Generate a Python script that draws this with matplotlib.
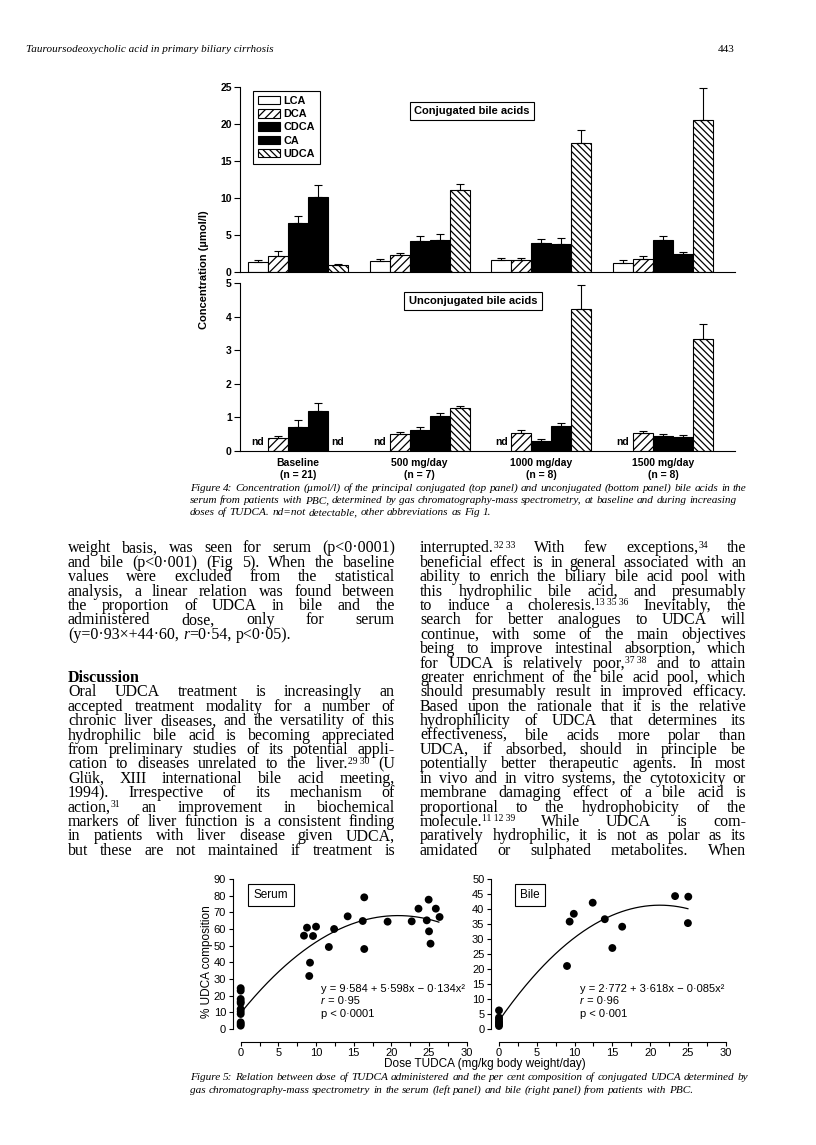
import re
import numpy as np
import matplotlib
matplotlib.use('Agg')
import matplotlib.pyplot as plt

# ---------------- data ----------------
groups = ['Baseline\n(n = 21)', '500 mg/day\n(n = 7)', '1000 mg/day\n(n = 8)', '1500 mg/day\n(n = 8)']
acids = ['LCA', 'DCA', 'CDCA', 'CA', 'UDCA']

# conjugated bile acids (umol/l): mean and top of error bar
conj_LCA = [1.3, 1.45, 1.6, 1.2]
conj_LCA_err = [1.65, 1.75, 1.9, 1.6]
conj_DCA = [2.15, 2.3, 1.6, 1.8]
conj_DCA_err = [2.8, 2.6, 1.9, 2.1]
conj_CDCA = [6.6, 4.2, 3.95, 4.3]
conj_CDCA_err = [7.6, 4.8, 4.5, 4.9]
conj_CA = [10.1, 4.35, 3.8, 2.4]
conj_CA_err = [11.8, 5.1, 4.6, 2.7]
conj_UDCA = [1.0, 11.1, 17.5, 20.5]
conj_UDCA_err = [1.12, 11.9, 19.2, 24.9]

# unconjugated bile acids (nan = not detectable)
unc_LCA = [np.nan, np.nan, np.nan, np.nan]
unc_LCA_err = [np.nan, np.nan, np.nan, np.nan]
unc_DCA = [0.4, 0.52, 0.55, 0.53]
unc_DCA_err = [0.46, 0.57, 0.62, 0.6]
unc_CDCA = [0.72, 0.63, 0.31, 0.44]
unc_CDCA_err = [0.93, 0.71, 0.36, 0.5]
unc_CA = [1.2, 1.05, 0.73, 0.43]
unc_CA_err = [1.43, 1.14, 0.82, 0.49]
unc_UDCA = [np.nan, 1.28, 4.22, 3.33]
unc_UDCA_err = [np.nan, 1.35, 4.95, 3.77]

# figure 5
serum_x = [0, 0, 0, 0, 0, 0, 0, 0, 0, 0, 0,
           8.4, 8.8, 9.1, 9.2, 9.6, 10.0, 11.7, 12.4, 14.2, 16.2, 16.4, 16.4,
           19.5, 22.7, 23.6, 24.7, 24.95, 25.0, 25.2, 25.9, 26.4]
serum_y = [24.5, 23, 18, 16.5, 15.5, 12, 10.5, 9, 4, 3, 2,
           56, 60.8, 31.8, 39.8, 55.8, 61.4, 49.2, 60, 67.6, 64.8, 79, 48,
           64.4, 64.6, 72.2, 65.2, 77.6, 58.6, 51.2, 72.2, 67.2]
serum_coef = [9.584, 5.598, -0.134]
serum_fit_max = 26.3

bile_x = [0, 0, 0, 0, 0, 0, 0, 9.0, 9.35, 9.9, 12.4, 14.0, 15.0, 16.3, 23.3, 25.05, 25.0]
bile_y = [6.2, 3.8, 3.2, 2.5, 2.0, 1.5, 1.0, 21.0, 35.8, 38.4, 42.1, 36.6, 27.0, 34.1, 44.3, 44.1, 35.3]
bile_coef = [2.772, 3.618, -0.085]
bile_fit_max = 25.0

# ---------------- page text ----------------
header_left = 'Tauroursodeoxycholic acid in primary biliary cirrhosis'
header_right = '443'
cap4 = ['Figure 4: Concentration (\u00b5mol/l) of the principal conjugated (top panel) and unconjugated (bottom panel) bile acids in the',
        'serum from patients with PBC, determined by gas chromatography-mass spectrometry, at baseline and during increasing',
        'doses of TUDCA. nd=not detectable, other abbreviations as Fig 1.']
cap5 = ['Figure 5: Relation between dose of TUDCA administered and the per cent composition of conjugated UDCA determined by',
        'gas chromatography-mass spectrometry in the serum (left panel) and bile (right panel) from patients with PBC.']

left_col_a = ['weight basis, was seen for serum (p<0\u00b70001)',
              'and bile (p<0\u00b7001) (Fig 5). When the baseline',
              'values were excluded from the statistical',
              'analysis, a linear relation was found between',
              'the proportion of UDCA in bile and the',
              'administered dose, only for serum',
              '(y=0\u00b793\u00d7+44\u00b760, _{r}=0\u00b754, p<0\u00b705).']
heading = 'Discussion'
left_col_b = ['Oral UDCA treatment is increasingly an',
              'accepted treatment modality for a number of',
              'chronic liver diseases, and the versatility of this',
              'hydrophilic bile acid is becoming appreciated',
              'from preliminary studies of its potential appli-',
              'cation to diseases unrelated to the liver.^{29 30} (U',
              'Gl\u00fck, XIII international bile acid meeting,',
              '1994). Irrespective of its mechanism of',
              'action,^{31} an improvement in biochemical',
              'markers of liver function is a consistent finding',
              'in patients with liver disease given UDCA,',
              'but these are not maintained if treatment is']
right_col = ['interrupted.^{32 33} With few exceptions,^{34} the',
             'beneficial effect is in general associated with an',
             'ability to enrich the biliary bile acid pool with',
             'this hydrophilic bile acid, and presumably',
             'to induce a choleresis.^{13 35 36} Inevitably, the',
             'search for better analogues to UDCA will',
             'continue, with some of the main objectives',
             'being to improve intestinal absorption, which',
             'for UDCA is relatively poor,^{37 38} and to attain',
             'greater enrichment of the bile acid pool, which',
             'should presumably result in improved efficacy.',
             'Based upon the rationale that it is the relative',
             'hydrophilicity of UDCA that determines its',
             'effectiveness, bile acids more polar than',
             'UDCA, if absorbed, should in principle be',
             'potentially better therapeutic agents. In most',
             'in vivo and in vitro systems, the cytotoxicity or',
             'membrane damaging effect of a bile acid is',
             'proportional to the hydrophobicity of the',
             'molecule.^{11 12 39} While UDCA is com-',
             'paratively hydrophilic, it is not as polar as its',
             'amidated or sulphated metabolites. When']

# ---------------- figure ----------------
W, H = 816, 1145
fig = plt.figure(figsize=(W / 100, H / 100), dpi=100)
fig.patch.set_facecolor('white')
renderer = fig.canvas.get_renderer()
SANS = 'Liberation Sans'
SERIF = 'Liberation Serif'


def fx(x):
    return x / W


def fy(y):
    return 1 - y / H


def axes_px(left, top, right, bottom):
    return fig.add_axes([fx(left), fy(bottom), (right - left) / W, (bottom - top) / H])


# ---------- Figure 4 ----------
ax_top = axes_px(240, 87, 735, 272)
ax_bot = axes_px(240, 283, 735, 451)

styles = [dict(color='white', hatch=None),
          dict(color='white', hatch='////'),
          dict(color='black', hatch=None),
          dict(color='black', hatch=None),
          dict(color='white', hatch='\\\\\\\\\\')]
plt.rcParams['hatch.linewidth'] = 0.9

conj_vals = [conj_LCA, conj_DCA, conj_CDCA, conj_CA, conj_UDCA]
conj_errs = [conj_LCA_err, conj_DCA_err, conj_CDCA_err, conj_CA_err, conj_UDCA_err]
unc_vals = [unc_LCA, unc_DCA, unc_CDCA, unc_CA, unc_UDCA]
unc_errs = [unc_LCA_err, unc_DCA_err, unc_CDCA_err, unc_CA_err, unc_UDCA_err]

group_start = 0.4 + 6.085 * np.arange(len(groups))
centers = group_start + 2.5

handles = []
for ax, vals_all, errs_all, ymax in [(ax_top, conj_vals, conj_errs, 25), (ax_bot, unc_vals, unc_errs, 5)]:
    for j, (vals, errs) in enumerate(zip(vals_all, errs_all)):
        vals = np.array(vals, float)
        errs = np.array(errs, float)
        xs = group_start + j + 0.5
        ok = ~np.isnan(vals)
        b = ax.bar(xs[ok], vals[ok], width=1.0, color=styles[j]['color'], hatch=styles[j]['hatch'],
                   edgecolor='black', linewidth=0.8, label=acids[j], zorder=2)
        if ax is ax_top:
            handles.append(b)
        ax.errorbar(xs[ok], vals[ok], yerr=[np.zeros(ok.sum()), errs[ok] - vals[ok]], fmt='none',
                    ecolor='black', elinewidth=0.8, capsize=3.2, capthick=0.8, zorder=3)
        if ax is ax_bot:
            for xi in xs[~ok]:
                ax.text(xi, 0.27, 'nd', ha='center', va='center', fontsize=7.5, fontweight='bold', family=SANS)
    ax.set_xlim(0, 24.75)
    ax.set_ylim(0, ymax)
    ax.spines['top'].set_visible(False)
    ax.spines['right'].set_visible(False)
    for s in ['left', 'bottom']:
        ax.spines[s].set_linewidth(0.8)
    ax.tick_params(axis='y', direction='out', length=4, width=0.8, labelsize=7.5, pad=2)

ax_top.set_yticks(range(0, 26, 5))
ax_bot.set_yticks(range(0, 6, 1))
for ax in (ax_top, ax_bot):
    for lbl in ax.get_yticklabels():
        lbl.set_fontweight('bold')
        lbl.set_family(SANS)
ax_top.set_xticks([])
ax_bot.set_xticks(centers)
ax_bot.set_xticklabels(groups, fontsize=7.5, fontweight='bold', family=SANS, linespacing=1.3)
ax_bot.tick_params(axis='x', length=0, pad=5)

leg = ax_top.legend(handles=handles, labels=acids, loc='upper left',
                    bbox_to_anchor=(fx(253), fy(91)), bbox_transform=fig.transFigure,
                    borderaxespad=0, frameon=True, fancybox=False, framealpha=1,
                    edgecolor='black', handlelength=2.0, handleheight=0.8, handletextpad=0.35,
                    labelspacing=0.3, borderpad=0.45,
                    prop=dict(family=SANS, weight='bold', size=7.8))
leg.get_frame().set_linewidth(0.8)

box = dict(boxstyle='square,pad=0.4', fc='white', ec='black', lw=0.8)
fig.text(fx(472), fy(111), 'Conjugated bile acids', ha='center', va='center', fontsize=8,
         fontweight='bold', family=SANS, bbox=box)
fig.text(fx(473), fy(301), 'Unconjugated bile acids', ha='center', va='center', fontsize=8,
         fontweight='bold', family=SANS, bbox=box)
fig.text(fx(204), fy(270), 'Concentration (\u00b5mol/l)', rotation=90, ha='center', va='center',
         fontsize=8, fontweight='bold', family=SANS)

# ---------- Figure 5 ----------
ax_s = axes_px(240.7, 879, 466.7, 1029)
ax_b = axes_px(499, 879, 725.7, 1029)
for ax, xs, ys, coef, xmax, ymax, ystep, name, eq, r, p, boxc, eqx in [
        (ax_s, serum_x, serum_y, serum_coef, serum_fit_max, 90, 10, 'Serum',
         'y = 9\u00b7584 + 5\u00b7598x \u2212 0\u00b7134x\u00b2', '0\u00b795', 'p < 0\u00b70001', 271, 321),
        (ax_b, bile_x, bile_y, bile_coef, bile_fit_max, 50, 5, 'Bile',
         'y = 2\u00b7772 + 3\u00b7618x \u2212 0\u00b7085x\u00b2', '0\u00b796', 'p < 0\u00b7001', 530, 580)]:
    ax.scatter(xs, ys, s=32, color='black', edgecolors='none', clip_on=False, zorder=3)
    xf = np.linspace(0, xmax, 200)
    ax.plot(xf, coef[0] + coef[1] * xf + coef[2] * xf ** 2, color='black', lw=0.9, zorder=2)
    ax.set_xlim(0, 30)
    ax.set_ylim(0, ymax)
    ax.set_xticks(range(0, 31, 5))
    ax.set_xticks(np.arange(2.5, 30, 5), minor=True)
    ax.set_yticks(range(0, ymax + 1, ystep))
    ax.spines['top'].set_visible(False)
    ax.spines['right'].set_visible(False)
    ax.spines['left'].set_position(('outward', 5.5))
    ax.spines['bottom'].set_position(('outward', 9))
    for s in ['left', 'bottom']:
        ax.spines[s].set_linewidth(0.8)
    ax.tick_params(which='both', direction='out', length=3, width=0.8, labelsize=8, pad=2)
    for lbl in ax.get_xticklabels() + ax.get_yticklabels():
        lbl.set_family(SANS)
    fig.text(fx(boxc), fy(895), name, ha='center', va='center', fontsize=8.5, family=SANS,
             bbox=dict(boxstyle='square,pad=0.45', fc='white', ec='black', lw=0.8))
    fig.text(fx(eqx), fy(989), eq, ha='left', va='center', fontsize=8, family=SANS)
    fig.text(fx(eqx), fy(1001.5), 'r', ha='left', va='center', fontsize=8, family=SANS, style='italic')
    fig.text(fx(eqx + 4), fy(1001.5), ' = ' + r, ha='left', va='center', fontsize=8, family=SANS)
    fig.text(fx(eqx), fy(1014), p, ha='left', va='center', fontsize=8, family=SANS)

fig.text(fx(207), fy(962), '% UDCA composition', rotation=90, ha='center', va='center',
         fontsize=8.5, family=SANS)
fig.text(fx(485), fy(1064), 'Dose TUDCA (mg/kg body weight/day)', ha='center', va='center',
         fontsize=8.5, family=SANS)

# ---------------- text typesetting ----------------
SEG_RE = re.compile(r'\^\{([^}]*)\}|_\{([^}]*)\}|([^\^_]+)')


def words_of(line):
    line = re.sub(r'\^\{([^}]*)\}', lambda m: '^{' + m.group(1).replace(' ', '~') + '}', line)
    out = []
    for w in line.split(' '):
        segs = []
        for m in SEG_RE.finditer(w):
            if m.group(1) is not None:
                segs.append((m.group(1).replace('~', ' '), 'sup'))
            elif m.group(2) is not None:
                segs.append((m.group(2), 'i'))
            else:
                segs.append((m.group(3), 'n'))
        out.append(segs)
    return out


def measure(s, size, family, style='normal', weight='normal'):
    t = fig.text(0, 0, s, fontsize=size, family=family, style=style, weight=weight)
    w = t.get_window_extent(renderer).width
    t.remove()
    return w


def plain(line):
    return re.sub(r'\^\{[^}]*\}', '', line).replace('_{', '').replace('}', '')


def draw_line(line, x0, x1, ybase, size, family, style='normal', weight='normal', justify=True):
    words = words_of(line)
    space = measure('a a', size, family, style, weight) - measure('aa', size, family, style, weight)
    items = []
    for segs in words:
        wl = []
        for s, kind in segs:
            sz = size * 0.6 if kind == 'sup' else size
            st = 'italic' if kind == 'i' else style
            t = fig.text(0, 0, s, fontsize=sz, family=family, style=st, weight=weight, va='baseline')
            wl.append((t, t.get_window_extent(renderer).width, kind))
        items.append(wl)
    widths = [sum(w for _, w, _ in wl) for wl in items]
    gap = space
    if justify and len(items) > 1:
        gap = (x1 - x0 - sum(widths)) / (len(items) - 1)
    x = x0
    for wl, ww in zip(items, widths):
        xx = x
        for t, w, kind in wl:
            yy = ybase - (size * 0.3 * 100 / 72 if kind == 'sup' else 0)
            t.set_position((fx(xx), fy(yy)))
            xx += w
        x += ww + gap


def fit_size(lines, target, family, style='normal'):
    ref = max(measure(plain(l), 10, family, style) for l in lines)
    return 10 * target / ref


# header
fig.text(fx(26), fy(52), header_left, fontsize=8, family=SERIF, style='italic', va='baseline')
fig.text(fx(735), fy(52), header_right, fontsize=8, family=SERIF, va='baseline', ha='right')

# captions
c4 = fit_size(cap4[:1], 560, SERIF, 'italic')
for k, l in enumerate(cap4):
    draw_line(l, 190, 750, 491 + 12.2 * k, c4, SERIF, style='italic', justify=False)
c5 = fit_size(cap5[:1], 560, SERIF, 'italic')
for k, l in enumerate(cap5):
    draw_line(l, 190, 750, 1080 + 12.8 * k, c5, SERIF, style='italic', justify=False)

# body
just_lines = left_col_a[:-1] + left_col_b + right_col
plain_lines = [l for l in just_lines if '^' not in l and '_' not in l]
bsize = fit_size(plain_lines, 327, SERIF) * 0.94
LH = 14.4
Y0 = 549 + 3.5
LX0, LX1, RX0, RX1 = 68, 395, 420, 746
for k, l in enumerate(left_col_a):
    draw_line(l, LX0, LX1, Y0 + LH * k, bsize, SERIF, justify=(k < len(left_col_a) - 1))
draw_line(heading, LX0, LX1, Y0 + LH * 9, bsize, SERIF, weight='bold', justify=False)
for k, l in enumerate(left_col_b):
    draw_line(l, LX0, LX1, Y0 + LH * (10 + k), bsize, SERIF, justify=True)
for k, l in enumerate(right_col):
    draw_line(l, RX0, RX1, Y0 + LH * k, bsize, SERIF, justify=True)

fig.savefig('out.png', dpi=100, facecolor='white')
